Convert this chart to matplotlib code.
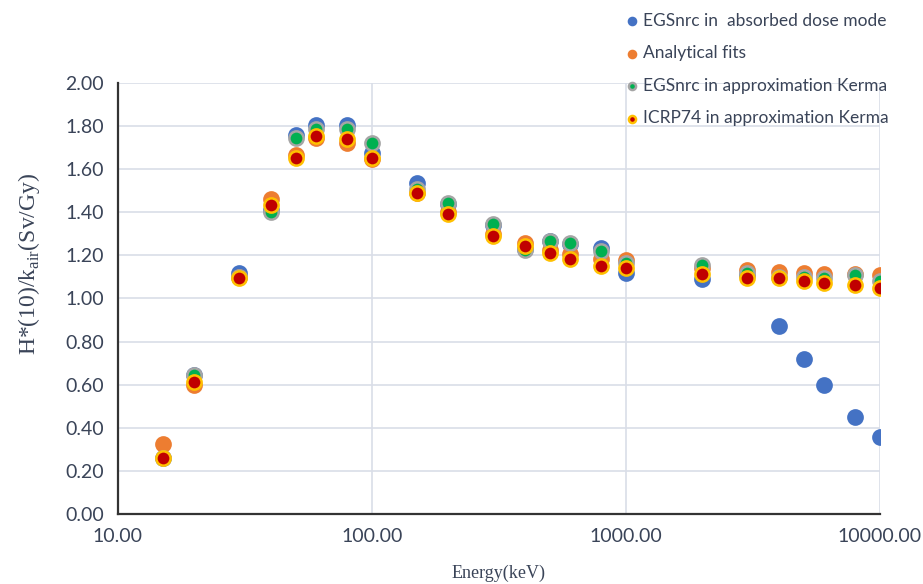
import matplotlib.pyplot as plt
from matplotlib.ticker import FixedLocator, FuncFormatter

energy = [15, 20, 30, 40, 50, 60, 80, 100, 150, 200, 300, 400, 500, 600, 800,
          1000, 2000, 3000, 4000, 5000, 6000, 8000, 10000]

egs_dose = [0.26, 0.645, 1.12, 1.41, 1.76, 1.805, 1.805, 1.675, 1.535, 1.44, 1.34, 1.23, 1.265,
            1.255, 1.232, 1.12, 1.09, 1.11, 0.872, 0.719, 0.597, 0.449, 0.359]
fits = [0.323, 0.60, 1.10, 1.46, 1.665, 1.745, 1.72, 1.645, 1.49, 1.40, 1.30, 1.258, 1.225,
        1.207, 1.183, 1.18, 1.14, 1.13, 1.124, 1.117, 1.114, 1.114, 1.108]
egs_kerma = [0.26, 0.645, 1.10, 1.403, 1.746, 1.786, 1.786, 1.72, 1.51, 1.442, 1.347, 1.226, 1.267,
             1.256, 1.222, 1.166, 1.155, 1.117, 1.10, 1.10, 1.095, 1.109, 1.083]
icrp74 = [0.261, 0.614, 1.093, 1.434, 1.65, 1.754, 1.74, 1.65, 1.488, 1.391, 1.29, 1.244, 1.213,
          1.185, 1.151, 1.14, 1.112, 1.094, 1.094, 1.083, 1.073, 1.063, 1.05]

labels = ['EGSnrc in  absorbed dose mode', 'Analytical fits',
          'EGSnrc in approximation Kerma', 'ICRP74 in approximation Kerma']
faces = ['#4472C4', '#ED7D31', '#00B050', '#C00000']
edges = ['#4472C4', '#ED7D31', '#A5A5A5', '#FFC000']

TEXT = '#3A4458'

fig = plt.figure(figsize=(9.23, 5.84), dpi=100)
ax = fig.add_axes([0.1278, 0.1199, 0.8256, 0.738])

for vals, lab, fc, ec in zip([egs_dose, fits, egs_kerma, icrp74], labels, faces, edges):
    ax.scatter(energy, vals, s=105, color=fc, edgecolors=ec, linewidths=1.8,
               label=lab, zorder=3)

ax.set_xscale('log')
ax.set_xlim(10, 10000)
ax.set_ylim(0, 2.0)
ax.xaxis.set_major_locator(FixedLocator([10, 100, 1000, 10000]))
ax.xaxis.set_minor_locator(FixedLocator([]))
ax.xaxis.set_major_formatter(FuncFormatter(lambda v, p: '%.2f' % v))
ax.set_yticks([i * 0.2 for i in range(11)])
ax.yaxis.set_major_formatter(FuncFormatter(lambda v, p: '%.2f' % v))

ax.grid(True, color='#D9DEE8', linewidth=1.2, zorder=0)
ax.set_axisbelow(True)
for name, spine in ax.spines.items():
    if name in ('top', 'right'):
        spine.set_visible(False)
    else:
        spine.set_color('#333333')
        spine.set_linewidth(1.6)
ax.tick_params(length=0, labelsize=14, labelcolor=TEXT, pad=10)
for t in ax.get_xticklabels() + ax.get_yticklabels():
    t.set_family('Lato')

ax.set_ylabel(r'H*(10)/k$_{\mathregular{air}}$(Sv/Gy)', family='Liberation Serif',
              fontsize=17, color=TEXT)
ax.yaxis.set_label_coords(-0.1, 0.58)
ax.set_xlabel('Energy(keV)', family='Liberation Serif', fontsize=13, color=TEXT)
ax.xaxis.set_label_coords(0.5, -0.117)

leg = ax.legend(loc='upper left', bbox_to_anchor=(0.662, 1.005), bbox_transform=fig.transFigure,
                frameon=False, markerscale=0.5, handlelength=0.6, handletextpad=0.35,
                labelspacing=0.95, prop={'family': 'Lato', 'size': 12.5})
for t in leg.get_texts():
    t.set_color(TEXT)

fig.savefig('out.png', dpi=100)
